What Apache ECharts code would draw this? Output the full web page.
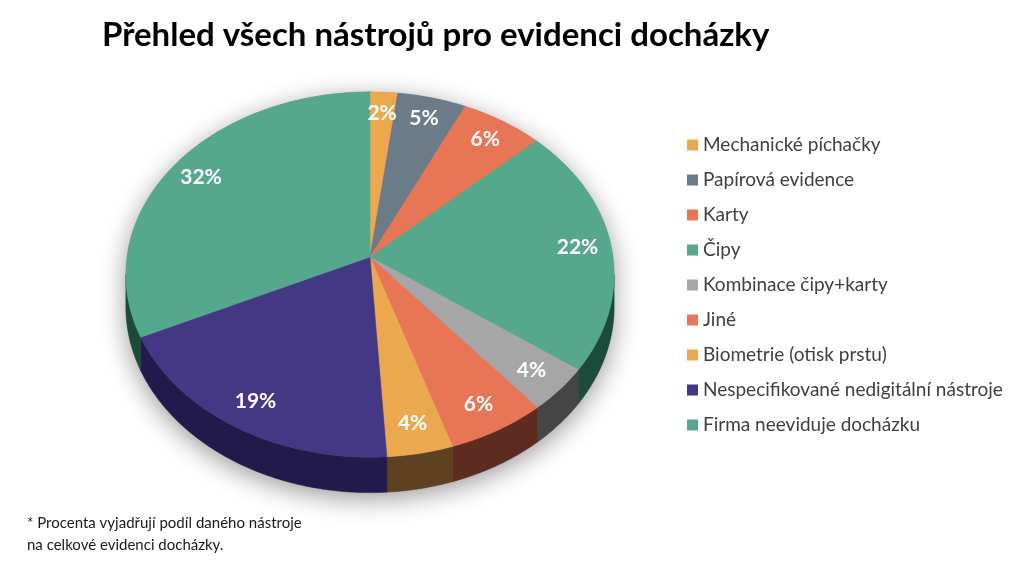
<!DOCTYPE html>
<html>
<head>
<meta charset="utf-8">
<script src="https://cdn.jsdelivr.net/npm/echarts@6/dist/echarts.min.js"></script>
<style>
html, body { margin: 0; background: #fff; }
#chart { width: 1024px; height: 581px; }
</style>
</head>
<body>
<div id="chart"></div>
<script>
var categories = [
    'Mechanické píchačky',
    'Papírová evidence',
    'Karty',
    'Čipy',
    'Kombinace čipy+karty',
    'Jiné',
    'Biometrie (otisk prstu)',
    'Nespecifikované nedigitální nástroje',
    'Firma neeviduje docházku'
];
var values = [2, 5, 6, 22, 4, 6, 4, 19, 32];
var topColors = ['#eca84e', '#6b7b88', '#e87556', '#55a88b', '#a6a6a6', '#e87556', '#eca84e', '#443784', '#55a88b'];
var sideColors = ['#5e4120', '#2f363d', '#5e2b20', '#1d4a3a', '#454545', '#5e2b20', '#5e4120', '#221a4a', '#1d4a3a'];

var chart = echarts.init(document.getElementById('chart'));

var total = 0, starts = [];
values.forEach(function (v) { starts.push(total); total += v; });

// tilted pie: center of the top face, radii, perspective factor, wall height
var cx = 370, cy = 257, rx = 243, ry = 181, persp = 0.096, depth = 32;
var silL = Math.acos(-persp), silR = 2 * Math.PI - silL;

function proj(phi, k) {
    var X = Math.sin(phi) * k, Y = Math.cos(phi) * k, w = 1 + persp * Y;
    return [cx + rx * X / w, cy - ry * Y / w];
}
function rim(a0, a1) {
    var pts = [], n = Math.max(2, Math.ceil((a1 - a0) / 0.01));
    for (var j = 0; j <= n; j++) pts.push(proj(a0 + (a1 - a0) * j / n, 1));
    return pts;
}
function wall(a0, a1) {
    var n = Math.max(2, Math.ceil((a1 - a0) / 0.01)), up = [], down = [];
    for (var j = 0; j <= n; j++) {
        var phi = a0 + (a1 - a0) * j / n;
        var p = proj(phi, 1), w = 1 + persp * Math.cos(phi);
        up.push(p);
        down.push([p[0], p[1] + depth / w]);
    }
    return up.concat(down.reverse());
}

var series = categories.map(function (name, i) {
    return {
        type: 'custom',
        name: name,
        coordinateSystem: 'none',
        silent: true,
        animation: false,
        itemStyle: { color: topColors[i] },
        data: [values[i]],
        renderItem: function () {
            var a0 = starts[i] / total * 2 * Math.PI;
            var a1 = (starts[i] + values[i]) / total * 2 * Math.PI;
            var children = [];
            if (i === 0) {
                // soft shadow under the whole pie
                children.push({
                    type: 'polygon', z2: -5,
                    shape: { points: rim(0, 2 * Math.PI).concat(wall(silL, silR)) },
                    style: { fill: '#9a9a9a', shadowBlur: 26, shadowColor: 'rgba(0,0,0,0.4)', shadowOffsetY: 6 }
                });
            }
            var s0 = Math.max(a0, silL), s1 = Math.min(a1, silR);
            if (s1 > s0) {
                children.push({
                    type: 'polygon', z2: 0,
                    shape: { points: wall(s0, s1) },
                    style: { fill: sideColors[i], stroke: sideColors[i], lineWidth: 0.5 }
                });
            }
            children.push({
                type: 'polygon', z2: 10,
                shape: { points: [[cx, cy]].concat(rim(a0, a1)) },
                style: { fill: topColors[i], stroke: topColors[i], lineWidth: 0.5 }
            });
            var lp = proj((a0 + a1) / 2, 0.86);
            children.push({
                type: 'text', z2: 20,
                x: lp[0], y: lp[1],
                style: {
                    text: values[i] + '%',
                    fill: '#fff',
                    font: 'bold 21px Lato',
                    align: 'center',
                    verticalAlign: 'middle'
                }
            });
            return { type: 'group', children: children };
        }
    };
});

chart.setOption({
    animation: false,
    title: {
        text: 'Přehled všech nástrojů pro evidenci docházky',
        left: 97,
        top: 14,
        textStyle: { fontFamily: 'Lato', fontSize: 33, fontWeight: 'bold', color: '#000' }
    },
    legend: {
        orient: 'vertical',
        left: 682,
        top: 130,
        icon: 'rect',
        itemWidth: 11,
        itemHeight: 11,
        itemGap: 15,
        data: categories,
        textStyle: { fontFamily: 'Lato', fontSize: 19, color: '#404040', lineHeight: 20 }
    },
    graphic: [{
        type: 'text',
        left: 27,
        top: 512,
        style: {
            text: '* Procenta vyjadřují podíl daného nástroje\nna celkové evidenci docházky.',
            font: '15px Lato',
            fill: '#1a1a1a',
            lineHeight: 22
        }
    }],
    series: series
});
</script>
</body>
</html>
